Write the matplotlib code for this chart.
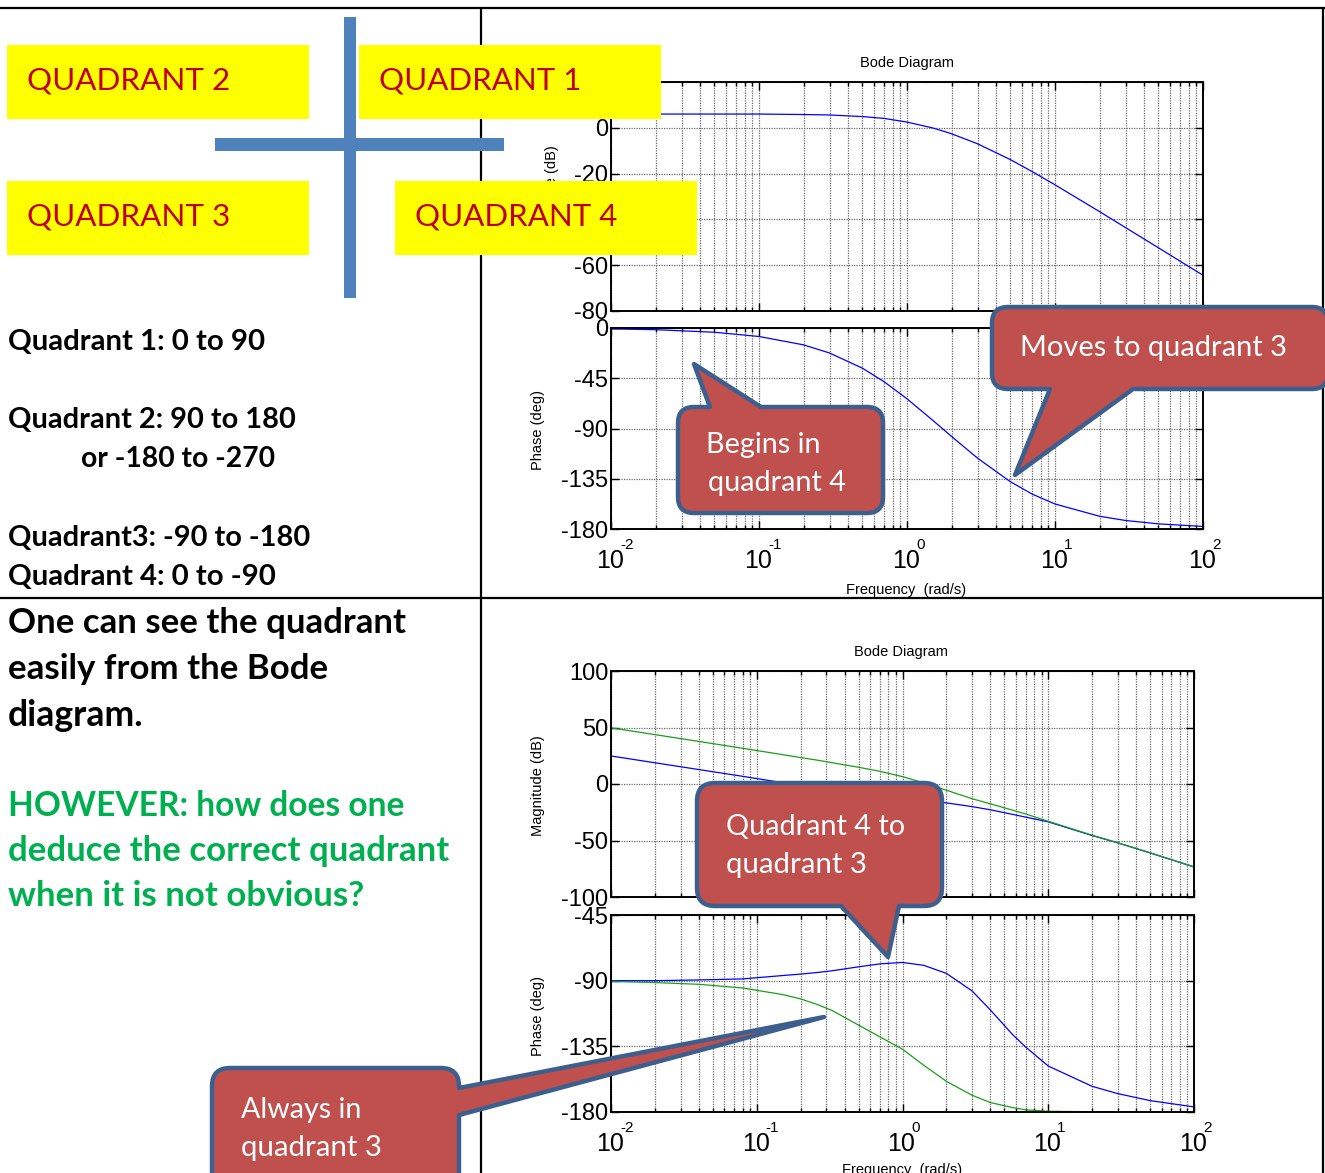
import numpy as np
import matplotlib.pyplot as plt
from matplotlib.path import Path
from matplotlib.patches import PathPatch, Rectangle
from matplotlib.ticker import LogLocator, NullFormatter

plt.rcParams['font.family'] = 'Liberation Sans'
plt.rcParams['axes.unicode_minus'] = False

# ---- data ----
decades = [0.01, 0.1, 1, 10, 100]
decade_exps = ['-2', '-1', '0', '1', '2']

# top diagram (one system)
w_top = [0.01, 0.02, 0.05, 0.1, 0.2, 0.3, 0.5, 0.7, 1, 1.5, 2, 3, 5, 7,
         10, 20, 30, 50, 100]
mag_top = [6.0, 6.0, 6.0, 6.0, 5.8, 5.6, 4.9, 4.1, 2.5, -0.1, -2.6, -7.0,
           -13.9, -19.1, -24.9, -36.6, -43.6, -52.4, -64.4]
phase_top = [-0.8, -1.5, -3.8, -7.6, -15.1, -22.4, -36.0, -48.1, -63.4,
             -82.9, -97.1, -116.6, -137.7, -148.7, -157.6, -168.6, -172.4,
             -175.4, -177.7]

# bottom diagram (two systems)
w_bot = [0.01, 0.02, 0.04, 0.08, 0.15, 0.2, 0.26, 0.33, 0.5, 0.7, 1, 1.4, 2,
         3, 4, 5.7, 7, 10, 20, 30, 50, 100]
mag_blue = [24.8, 18.8, 12.8, 6.8, 1.2, -1.4, -3.5, -5.4, -8.4, -10.7, -12.5,
            -14.5, -16.7, -20.0, -22.8, -26.9, -29.3, -33.5, -45.6, -52.1,
            -61.0, -73.4]
mag_green = [49.7, 43.7, 37.7, 31.6, 26.0, 23.4, 21.1, 18.8, 14.8, 11.2, 6.5,
             1.0, -5.5, -13.0, -17.5, -23.2, -26.5, -33.0, -45.3, -52.0,
             -60.9, -73.3]
phase_blue = [-90, -90, -89.5, -88.8, -86.5, -85.5, -84.4, -83.2, -80.5,
              -78.5, -77.5, -79.5, -85, -97, -110, -127, -135.5, -148.5,
              -162.4, -167.4, -172.2, -176.5]
phase_green = [-90.5, -91.3, -92.5, -95, -99.5, -102.5, -106.3, -110.5,
               -120.5, -128.5, -137, -148, -159, -168.5, -173.5, -177,
               -178.5, -179.5, -179.8, -179.9, -180, -180]

W, H = 1325, 1173
RED_BOX = '#C0504D'
BLUE_EDGE = '#3D5F8D'
GREEN = '#1A9E1A'

fig = plt.figure(figsize=(W / 100, H / 100), dpi=100)


def px_axes(x0, y0, x1, y1):
    return fig.add_axes([x0 / W, 1 - y1 / H, (x1 - x0) / W, (y1 - y0) / H])


def style_bode(ax, yticks, show_x):
    ax.set_xscale('log')
    ax.set_xlim(0.01, 100)
    ax.set_ylim(yticks[0], yticks[-1])
    ax.set_yticks(yticks)
    ax.set_xticks(decades)
    ax.set_xticklabels([])
    ax.xaxis.set_minor_locator(LogLocator(base=10, subs=np.arange(2, 10)))
    ax.xaxis.set_minor_formatter(NullFormatter())
    ax.tick_params(which='both', direction='in', top=True, right=True,
                   labelsize=17, width=1)
    ax.tick_params(which='major', length=6, pad=2)
    ax.tick_params(which='minor', length=3)
    grid = dict(ls=(0, (1, 1)), color='#6a6a6a', lw=0.9)
    ax.grid(True, which='major', **grid)
    ax.grid(True, which='minor', axis='x', **grid)
    for sp in ax.spines.values():
        sp.set_linewidth(1.4)
    if show_x:
        # MATLAB-style "10" with a raised exponent
        tr = ax.get_xaxis_transform()
        for d, e in zip(decades, decade_exps):
            ax.annotate('10', (d, 0), xycoords=tr, xytext=(-1, -32),
                        textcoords='offset pixels', ha='center', va='center',
                        fontsize=18, annotation_clip=False)
            ax.annotate(e, (d, 0), xycoords=tr, xytext=(9, -16),
                        textcoords='offset pixels', ha='left', va='center',
                        fontsize=11, annotation_clip=False)


ax1 = px_axes(611, 82, 1203, 311)
ax1.plot(w_top, mag_top, color='blue', lw=0.9)
style_bode(ax1, [-80, -60, -40, -20, 0, 20], False)

ax2 = px_axes(611, 328, 1203, 529)
ax2.plot(w_top, phase_top, color='blue', lw=0.9)
style_bode(ax2, [-180, -135, -90, -45, 0], True)

ax3 = px_axes(611, 671, 1194, 897)
ax3.plot(w_bot, mag_blue, color='blue', lw=0.9)
ax3.plot(w_bot, mag_green, color=GREEN, lw=0.9)
style_bode(ax3, [-100, -50, 0, 50, 100], False)

ax4 = px_axes(611, 915, 1194, 1112)
ax4.plot(w_bot, phase_blue, color='blue', lw=0.9)
ax4.plot(w_bot, phase_green, color=GREEN, lw=0.9)
style_bode(ax4, [-180, -135, -90, -45], True)

# overlay in pixel coordinates for the slide decorations
ov = fig.add_axes([0, 0, 1, 1], zorder=5)
ov.set_xlim(0, W)
ov.set_ylim(H, 0)
ov.axis('off')
rend = fig.canvas.get_renderer()


def fit(x, y, s, width, size0=20, **kw):
    t = ov.text(x, y, s, fontsize=size0, ha='left', va='center', **kw)
    w = t.get_window_extent(renderer=rend).width
    t.set_fontsize(size0 * width / w)
    return t


# bode labels (under the yellow boxes)
lab = dict(fontsize=10.5, ha='center', va='center', zorder=1)
ov.text(907, 63, 'Bode Diagram', **lab)
ov.text(901, 652, 'Bode Diagram', **lab)
ov.text(552, 196, 'Magnitude (dB)', rotation=90, **lab)
ov.text(538, 430, 'Phase (deg)', rotation=90, **lab)
ov.text(538, 786, 'Magnitude (dB)', rotation=90, **lab)
ov.text(538, 1016, 'Phase (deg)', rotation=90, **lab)
ov.text(906, 590, 'Frequency  (rad/s)', **lab)
ov.text(902, 1170, 'Frequency  (rad/s)', **lab)

# table lines
tbl = dict(color='black', lw=1.6, zorder=1, solid_capstyle='butt')
ov.plot([0, W], [8, 8], **tbl)
ov.plot([0, 1323], [598, 598], **tbl)
ov.plot([481, 481], [8, H], **tbl)
ov.plot([1323, 1323], [8, H], **tbl)

# quadrant boxes and cross
for (x0, y0, tx, label) in [(7, 45, 27, 'QUADRANT 2'), (359, 45, 379, 'QUADRANT 1'),
                            (7, 181, 27, 'QUADRANT 3'), (395, 181, 415, 'QUADRANT 4')]:
    ov.add_patch(Rectangle((x0, y0), 302, 74, facecolor='#FFFF00',
                           edgecolor='none', zorder=2))
    fit(tx, y0 + 35, label, 202, family='Lato', color='#C00000', zorder=3)

ov.add_patch(Rectangle((344, 17), 12, 281, facecolor='#4F81BD', edgecolor='none', zorder=3))
ov.add_patch(Rectangle((215, 138), 289, 13, facecolor='#4F81BD', edgecolor='none', zorder=3))

# left column text
for (x, y, s, w) in [(8, 342, 'Quadrant 1: 0 to 90', 257),
                     (8, 420, 'Quadrant 2: 90 to 180', 288),
                     (81, 459, 'or -180 to -270', 194),
                     (8, 538, 'Quadrant3: -90 to -180', 302),
                     (8, 577, 'Quadrant 4: 0 to -90', 268)]:
    fit(x, y, s, w, family='Lato', weight='bold', color='black', zorder=3)

for (x, y, s, w, c) in [(8, 623, 'One can see the quadrant', 398, 'black'),
                        (8, 669, 'easily from the Bode', 320, 'black'),
                        (8, 715, 'diagram.', 136, 'black'),
                        (8, 806, 'HOWEVER: how does one', 397, '#00B050'),
                        (8, 851, 'deduce the correct quadrant', 442, '#00B050'),
                        (8, 896, 'when it is not obvious?', 357, '#00B050')]:
    fit(x, y, s, w, family='Lato', weight='bold', color=c, zorder=3)


def callout(box, side, base, tip, r=16):
    x0, y0, x1, y1 = box
    L, C = Path.LINETO, Path.CURVE3
    pts = [((x0 + r, y0), Path.MOVETO)]
    if side == 'top':
        pts += [((base[0], y0), L), (tip, L), ((base[1], y0), L)]
    pts += [((x1 - r, y0), L), ((x1, y0), C), ((x1, y0 + r), C)]
    if side == 'right':
        pts += [((x1, base[0]), L), (tip, L), ((x1, base[1]), L)]
    pts += [((x1, y1 - r), L), ((x1, y1), C), ((x1 - r, y1), C)]
    if side == 'bottom':
        pts += [((base[1], y1), L), (tip, L), ((base[0], y1), L)]
    pts += [((x0 + r, y1), L), ((x0, y1), C), ((x0, y1 - r), C),
            ((x0, y0 + r), L), ((x0, y0), C), ((x0 + r, y0), C),
            ((x0 + r, y0), Path.CLOSEPOLY)]
    verts, codes = zip(*pts)
    ov.add_patch(PathPatch(Path(verts, codes), facecolor=RED_BOX,
                           edgecolor=BLUE_EDGE, lw=3.2, joinstyle='round',
                           zorder=4))


callout((678, 407, 883, 513), 'top', (710, 761), (694, 364))
callout((992, 307, 1328, 389), 'bottom', (1050, 1133), (1015, 475))
callout((697, 783, 942, 906), 'bottom', (841, 899), (888, 957), r=18)
callout((212, 1068, 459, 1200), 'right', (1088, 1115), (824, 1017), r=18)

for (x, y, s, w) in [(706, 445, 'Begins in', 115), (708, 483, 'quadrant 4', 139),
                     (1020, 348, 'Moves to quadrant 3', 267),
                     (726, 827, 'Quadrant 4 to', 180), (726, 865, 'quadrant 3', 141),
                     (241, 1110, 'Always in', 120), (241, 1148, 'quadrant 3', 141)]:
    fit(x, y, s, w, family='Lato', color='white', zorder=5)

fig.savefig('out.png', dpi=100)
